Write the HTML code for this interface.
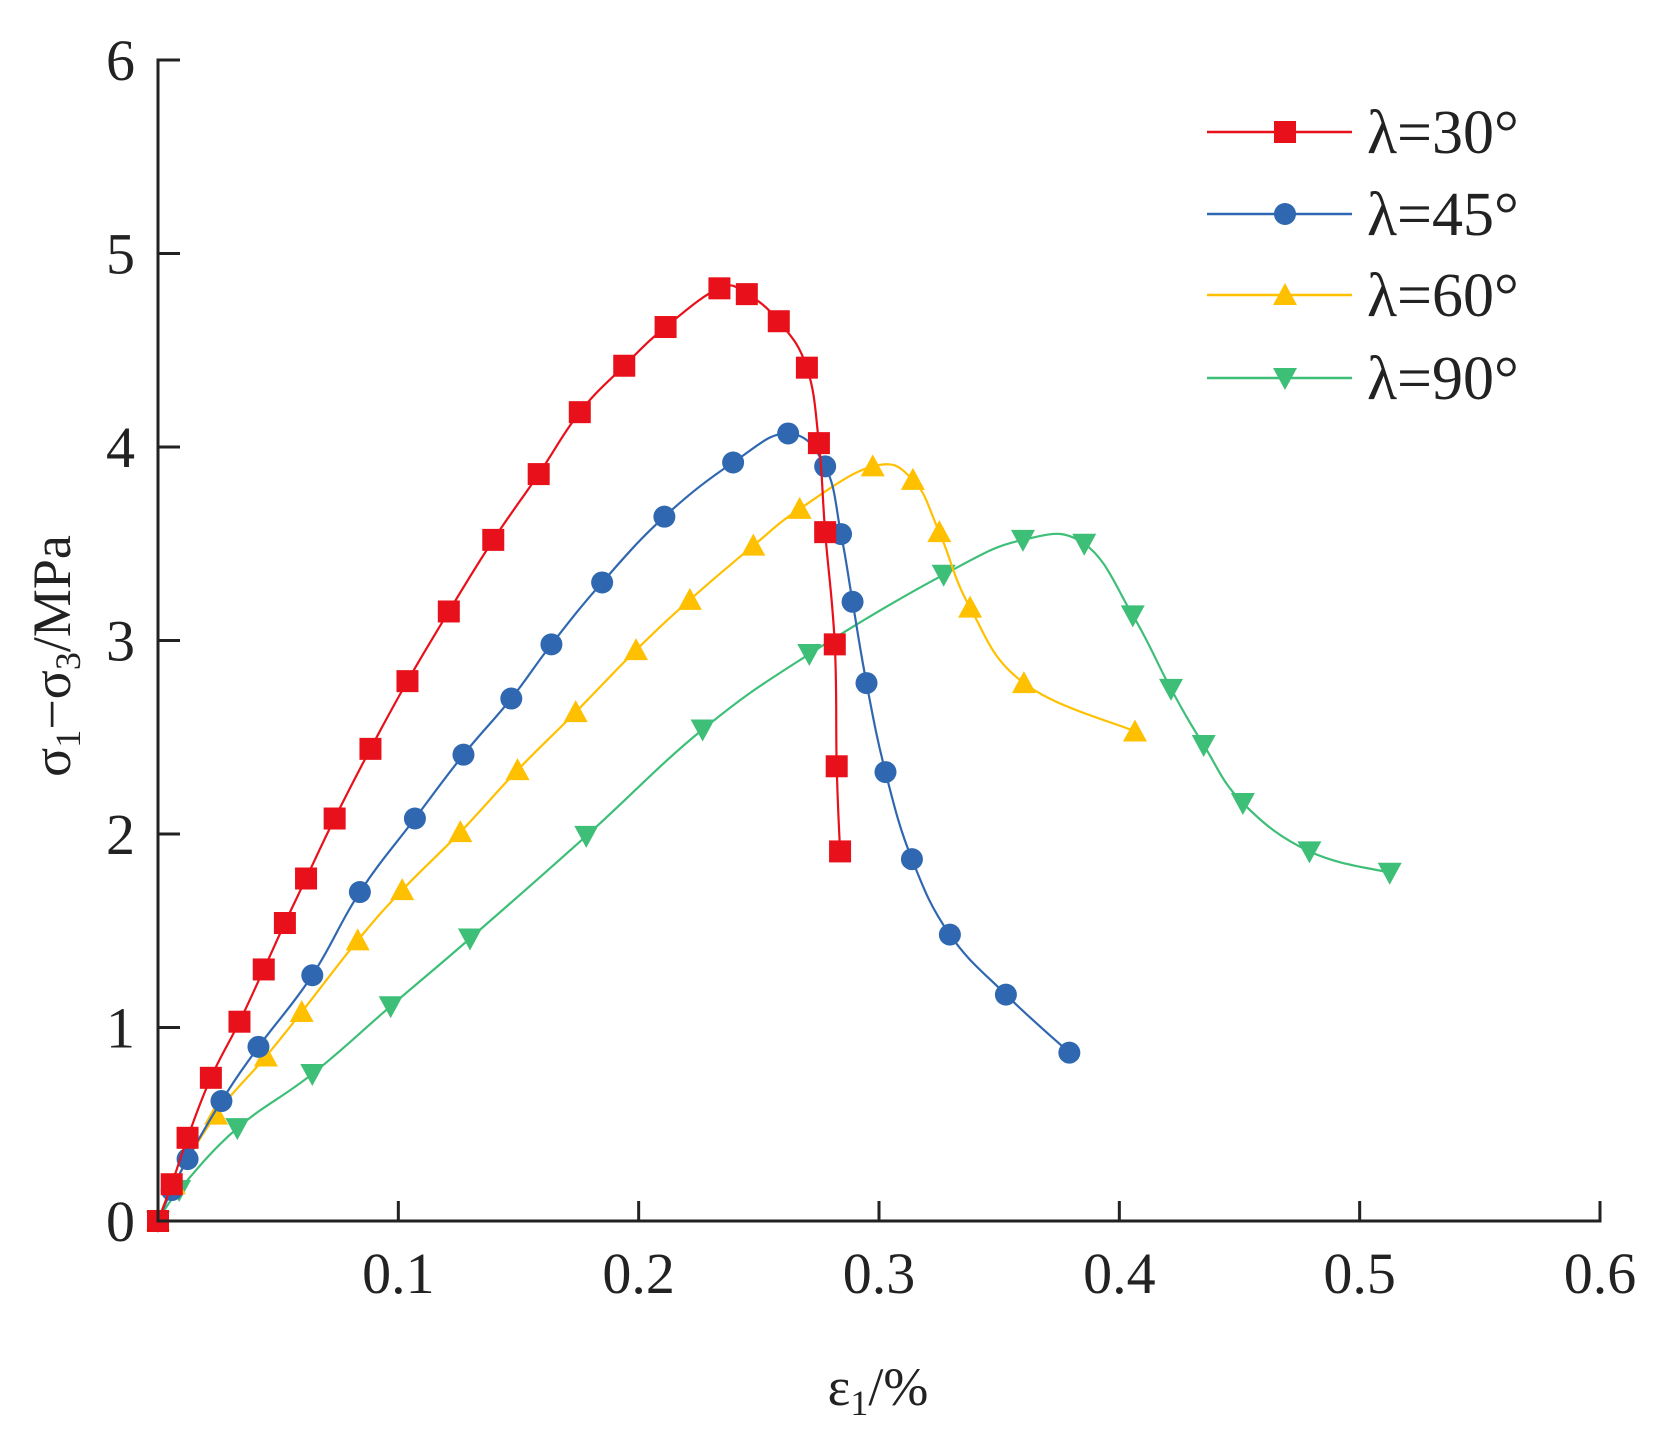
<!DOCTYPE html>
<html><head><meta charset="utf-8"><style>
html,body{margin:0;padding:0;background:#fff;}
svg{display:block;font-family:"Liberation Serif",serif;}
</style></head><body>
<svg id="chart" width="1659" height="1443" viewBox="0 0 1659 1443">
<g id="series-layer"></g>
<g id="axes"></g>
<g id="legend"></g>
</svg>
<script>
const xTicks=[0.1,0.2,0.3,0.4,0.5,0.6];
const xTickLabels=["0.1","0.2","0.3","0.4","0.5","0.6"];
const yTicks=[0,1,2,3,4,5,6];
const yTickLabels=["0","1","2","3","4","5","6"];
const seriesNames=["λ=30°","λ=45°","λ=60°","λ=90°"];
const x30=[0,0.0057,0.0123,0.022,0.0339,0.044,0.0528,0.0616,0.0735,0.0884,0.1038,0.121,0.1395,0.1584,0.1755,0.194,0.2112,0.2336,0.245,0.2583,0.270,0.275,0.2776,0.2816,0.2824,0.2838];
const y30=[0,0.19,0.43,0.74,1.03,1.30,1.54,1.77,2.08,2.44,2.79,3.15,3.52,3.86,4.18,4.42,4.62,4.82,4.79,4.65,4.41,4.02,3.56,2.98,2.35,1.91];
const x45=[0,0.0057,0.0123,0.0264,0.0418,0.0642,0.084,0.1069,0.1271,0.147,0.1637,0.1848,0.2107,0.2393,0.2622,0.2776,0.2842,0.289,0.2948,0.3027,0.3137,0.3295,0.3528,0.3792];
const y45=[0,0.16,0.32,0.62,0.90,1.27,1.70,2.08,2.41,2.70,2.98,3.30,3.64,3.92,4.07,3.90,3.55,3.20,2.78,2.32,1.87,1.48,1.17,0.87];
const x60=[0,0.0066,0.0242,0.0449,0.0598,0.0831,0.1016,0.1258,0.1496,0.1738,0.1989,0.2213,0.2477,0.267,0.2974,0.3141,0.3251,0.3379,0.3603,0.4065];
const y60=[0,0.19,0.55,0.85,1.08,1.45,1.71,2.01,2.33,2.63,2.95,3.21,3.49,3.68,3.90,3.83,3.56,3.17,2.78,2.53];
const x90=[0,0.0088,0.033,0.0642,0.0968,0.1298,0.1782,0.2266,0.271,0.3269,0.3599,0.3854,0.4056,0.4215,0.4351,0.4514,0.4791,0.5125];
const y90=[0,0.16,0.48,0.76,1.11,1.46,1.99,2.54,2.93,3.34,3.52,3.50,3.13,2.75,2.46,2.16,1.91,1.80];

const NS="http://www.w3.org/2000/svg";
const X0=158,X1=1600,Y0=1221,Y1=60;
function xs(v){return X0+v/0.6*(X1-X0);}
function ys(v){return Y0-v/6*(Y0-Y1);}
function mk(t,a,p){const e=document.createElementNS(NS,t);for(const k in a)e.setAttribute(k,a[k]);(p||document.getElementById('chart')).appendChild(e);return e;}
const colors=["#e8101a","#2f67b1","#ffc000","#3ebf78"];
const shapes=["square","circle","up","down"];
function marker(cx,cy,s,c,parent){
  const r=11;let e;
  if(s==="square")e=mk('rect',{x:cx-r,y:cy-r,width:2*r,height:2*r,fill:c},parent);
  else if(s==="circle")e=mk('circle',{cx:cx,cy:cy,r:r,fill:c},parent);
  else if(s==="up")e=mk('polygon',{points:`${cx},${cy-r-1} ${cx+r+1},${cy+r-1} ${cx-r-1},${cy+r-1}`,fill:c},parent);
  else e=mk('polygon',{points:`${cx},${cy+r+1} ${cx+r+1},${cy-r+1} ${cx-r-1},${cy-r+1}`,fill:c},parent);
  return e;
}
function smooth(pts){
  let d=`M${pts[0][0]},${pts[0][1]}`;
  for(let i=0;i<pts.length-1;i++){
    const p0=pts[Math.max(0,i-1)],p1=pts[i],p2=pts[i+1],p3=pts[Math.min(pts.length-1,i+2)];
    const t=0.2;
    d+=` C${p1[0]+(p2[0]-p0[0])*t},${p1[1]+(p2[1]-p0[1])*t} ${p2[0]-(p3[0]-p1[0])*t},${p2[1]-(p3[1]-p1[1])*t} ${p2[0]},${p2[1]}`;
  }
  return d;
}
const layer=document.getElementById('series-layer');
const allX=[x30,x45,x60,x90],allY=[y30,y45,y60,y90];
const order=[3,2,1,0];
order.forEach(si=>{
  const g=mk('g',{},layer);
  
  
  const pts=allX[si].map((v,i)=>[xs(v),ys(allY[si][i])]);
  const p=mk('path',{d:smooth(pts),fill:'none',stroke:colors[si],'stroke-width':2.2},g);
  
  
  pts.forEach(q=>{const m=marker(q[0],q[1],shapes[si],colors[si],g);
    
    });
});
const ax=document.getElementById('axes');
const al=mk('path',{d:`M${X0+22},${Y1} H${X0} V${Y0} H${X1} V${Y0-20}`,fill:'none',stroke:'#222','stroke-width':3},ax);


yTicks.forEach((v,i)=>{
  if(i>0&&i<yTicks.length-1){const t=mk('line',{x1:X0,x2:X0+22,y1:ys(v),y2:ys(v),stroke:'#222','stroke-width':3},ax);
  
  }
  const l=mk('text',{x:135,y:ys(v)+20,'text-anchor':'end','font-size':58,fill:'#222'},ax);
  l.textContent=yTickLabels[i];
  
  
});
xTicks.forEach((v,i)=>{
  if(i<xTicks.length-1){const t=mk('line',{x1:xs(v),x2:xs(v),y1:Y0,y2:Y0-20,stroke:'#222','stroke-width':3},ax);
  
  }
  const l=mk('text',{x:xs(v),y:1293,'text-anchor':'middle','font-size':58,fill:'#222'},ax);
  l.textContent=xTickLabels[i];
  
  
});
</script>
<script>
(function(){
const svg=document.getElementById('chart');
const xt=document.createElementNS(NS,'text');
xt.setAttribute('x',878);xt.setAttribute('y',1405);xt.setAttribute('text-anchor','middle');xt.setAttribute('font-size',54);xt.setAttribute('fill','#222');
xt.innerHTML='ε<tspan font-size="36" dy="10">1</tspan><tspan dy="-10">/%</tspan>';


svg.appendChild(xt);
const yt=document.createElementNS(NS,'text');
yt.setAttribute('transform','translate(70,656) rotate(-90)');yt.setAttribute('text-anchor','middle');yt.setAttribute('font-size',54);yt.setAttribute('fill','#222');
yt.innerHTML='σ<tspan font-size="36" dy="10">1</tspan><tspan dy="-10">−σ</tspan><tspan font-size="36" dy="10">3</tspan><tspan dy="-10">/MPa</tspan>';


svg.appendChild(yt);
const lg=document.getElementById('legend');
const ly=[132,214,295,378];
seriesNames.forEach((n,i)=>{
  const g=mk('g',{},lg);
  
  
  mk('line',{x1:1207,x2:1352,y1:ly[i],y2:ly[i],stroke:colors[i],'stroke-width':2.5},g);
  marker(1285,ly[i],shapes[i],colors[i],g);
  const t=mk('text',{x:1367,y:ly[i]+21,'font-size':62,fill:'#222'},g);
  t.textContent=n;
});
})();
</script>
</body></html>
